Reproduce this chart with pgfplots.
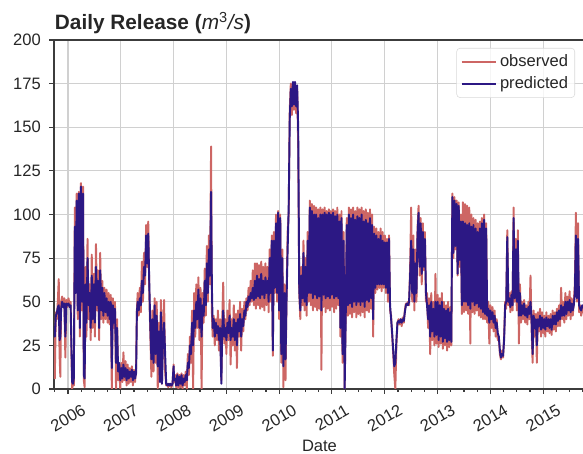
\documentclass[border=0pt]{standalone}
\usepackage{pgfplots}
\pgfplotsset{compat=1.18}
\usepackage{pgfplotstable}
\usepackage{fontspec}
\setmainfont{Liberation Sans}
\definecolor{obscol}{RGB}{205,102,100}
\definecolor{predcol}{RGB}{44,24,132}
\definecolor{gridcol}{RGB}{208,208,208}
\definecolor{spinecol}{RGB}{60,60,60}
\pgfplotstableread{
x obs pred
2005.735 30 36
2005.75 6 30
2005.77 44 42
2005.79 40 44
2005.81 52 47
2005.825 63 48
2005.84 20 28
2005.855 7 30
2005.87 50 46
2005.89 53 50
2005.91 47 47
2005.93 52 49
2005.95 18 30
2005.97 51 49
2005.99 47 48
2006.01 52 49
2006.03 48 47
2006.05 50 48
2006.065 20 25
2006.08 0 4
2006.095 8 3
2006.11 2 6
2006.13 104 93
2006.145 60 55
2006.165 112 108
2006.185 40 45
2006.205 113 112
2006.225 30 35
2006.245 118 116
2006.265 45 50
2006.285 116 112
2006.30 5 8
2006.315 1 6
2006.335 70 60
2006.35 30 38
2006.37 86 75
2006.39 40 48
2006.41 60 55
2006.43 28 35
2006.45 77 65
2006.47 35 40
2006.49 66 60
2006.51 30 38
2006.53 83 70
2006.55 45 48
2006.57 68 62
2006.59 28 35
2006.61 78 68
2006.63 40 45
2006.65 62 58
2006.67 38 42
2006.69 58 55
2006.71 40 44
2006.73 57 52
2006.75 38 42
2006.77 55 50
2006.79 37 40
2006.81 54 50
2006.83 0 12
2006.85 52 48
2006.87 35 38
2006.89 50 46
2006.91 0 15
2006.93 40 35
2006.95 5 10
2006.97 12 15
2006.99 0 5
2007.01 15 12
2007.03 4 6
2007.05 21 14
2007.07 5 7
2007.09 16 12
2007.11 2 5
2007.13 14 11
2007.15 3 6
2007.17 12 10
2007.19 4 7
2007.21 13 11
2007.23 2 5
2007.25 11 10
2007.27 4 6
2007.29 12 9
2007.305 45 44
2007.32 55 50
2007.34 42 45
2007.36 58 52
2007.38 44 48
2007.40 73 62
2007.42 50 55
2007.44 78 70
2007.46 60 65
2007.48 94 88
2007.50 70 72
2007.52 96 89
2007.54 55 60
2007.56 30 35
2007.58 7 17
2007.60 45 40
2007.62 10 15
2007.64 52 48
2007.66 15 20
2007.68 50 42
2007.70 0 13
2007.72 38 33
2007.74 5 4
2007.76 51 44
2007.78 3 3
2007.80 35 30
2007.82 51 38
2007.84 10 20
2007.86 2 3
2007.88 3 2
2007.90 1 3
2007.92 3 2
2007.94 2 3
2007.96 1 2
2007.98 3 3
2008.00 14 13
2008.01 4 5
2008.03 8 6
2008.05 1 2
2008.07 9 8
2008.09 0 2
2008.11 8 7
2008.13 1 3
2008.15 9 8
2008.17 0 2
2008.19 8 6
2008.21 2 4
2008.23 10 8
2008.25 0 5
2008.27 20 15
2008.29 8 12
2008.31 30 25
2008.33 15 20
2008.35 45 38
2008.37 0 25
2008.39 55 45
2008.41 30 35
2008.43 60 50
2008.45 35 40
2008.47 64 57
2008.49 28 35
2008.51 58 52
2008.53 0 30
2008.55 55 48
2008.57 38 42
2008.59 69 62
2008.61 42 48
2008.63 82 72
2008.65 50 55
2008.67 88 80
2008.69 60 65
2008.71 139 113
2008.725 45 60
2008.74 30 35
2008.76 42 40
2008.78 25 30
2008.80 40 38
2008.82 28 32
2008.84 45 36
2008.86 22 28
2008.88 40 35
2008.905 5 3
2008.92 38 33
2008.94 61 45
2008.96 26 30
2008.98 40 35
2009.00 20 28
2009.02 45 38
2009.04 28 32
2009.06 51 42
2009.08 14 28
2009.10 40 35
2009.12 25 30
2009.14 48 40
2009.16 22 28
2009.18 43 38
2009.20 12 25
2009.22 45 40
2009.24 30 33
2009.26 50 43
2009.28 22 30
2009.30 46 40
2009.32 33 36
2009.34 50 45
2009.36 40 42
2009.38 52 50
2009.40 45 47
2009.42 58 53
2009.44 48 50
2009.46 62 55
2009.48 50 52
2009.50 68 58
2009.52 48 51
2009.54 72 62
2009.56 46 52
2009.58 72 65
2009.60 48 53
2009.62 71 63
2009.64 46 52
2009.66 73 66
2009.68 47 54
2009.70 70 62
2009.72 45 52
2009.74 72 64
2009.76 48 55
2009.78 70 62
2009.80 44 50
2009.82 80 75
2009.84 50 55
2009.86 88 85
2009.88 19 22
2009.90 90 85
2009.92 55 58
2009.94 100 95
2009.96 50 55
2009.98 102 101
2010.00 40 45
2010.02 100 98
2010.04 15 20
2010.06 80 75
2010.08 1 13
2010.10 60 55
2010.12 5 17
2010.14 55 52
2010.16 90 80
2010.18 100 104
2010.20 160 155
2010.22 175 172
2010.24 157 162
2010.26 175 176
2010.28 160 163
2010.30 174 176
2010.32 158 162
2010.34 172 174
2010.36 140 150
2010.38 55 57
2010.40 40 45
2010.42 70 65
2010.44 48 52
2010.46 85 78
2010.48 45 50
2010.50 75 70
2010.52 42 48
2010.54 90 85
2010.56 50 55
2010.58 108 104
2010.60 48 55
2010.62 106 102
2010.64 45 52
2010.66 105 100
2010.68 47 54
2010.70 104 100
2010.72 45 52
2010.74 103 98
2010.76 46 53
2010.78 104 100
2010.80 11 45
2010.82 103 100
2010.84 47 54
2010.86 104 101
2010.88 44 52
2010.90 102 100
2010.92 46 53
2010.94 103 101
2010.96 45 52
2010.98 102 100
2011.00 47 54
2011.02 103 101
2011.04 44 52
2011.06 102 99
2011.08 46 53
2011.10 104 100
2011.12 48 52
2011.14 100 96
2011.16 30 35
2011.18 102 98
2011.20 15 20
2011.22 90 85
2011.24 0 0
2011.26 45 40
2011.28 98 94
2011.30 42 48
2011.32 104 100
2011.34 43 49
2011.36 103 98
2011.38 41 47
2011.40 104 100
2011.42 44 50
2011.44 102 97
2011.46 41 48
2011.48 104 99
2011.50 43 50
2011.52 103 98
2011.54 42 48
2011.56 104 100
2011.58 44 50
2011.60 102 96
2011.62 41 47
2011.64 103 97
2011.66 45 51
2011.68 101 95
2011.70 44 50
2011.72 103 98
2011.74 46 52
2011.76 100 94
2011.78 30 40
2011.80 93 89
2011.82 55 58
2011.84 92 88
2011.86 57 60
2011.88 90 86
2011.90 58 60
2011.92 92 88
2011.94 56 60
2011.96 90 85
2011.98 58 60
2012.00 88 84
2012.02 55 58
2012.04 86 84
2012.06 50 55
2012.08 88 86
2012.10 45 48
2012.12 42 40
2012.14 30 32
2012.16 20 22
2012.18 8 13
2012.20 0 15
2012.22 25 28
2012.24 38 38
2012.26 40 39
2012.28 37 38
2012.30 40 40
2012.32 36 38
2012.34 41 40
2012.36 38 39
2012.38 45 44
2012.40 49 48
2012.42 48 49
2012.44 50 48
2012.46 48 50
2012.48 70 65
2012.50 104 85
2012.52 50 55
2012.54 88 80
2012.56 45 50
2012.58 80 72
2012.60 50 55
2012.62 92 88
2012.64 105 101
2012.66 65 70
2012.68 98 95
2012.70 60 66
2012.72 95 90
2012.74 68 70
2012.76 90 86
2012.78 50 55
2012.80 55 48
2012.82 35 40
2012.84 52 48
2012.86 20 30
2012.88 55 50
2012.90 28 33
2012.92 50 46
2012.94 25 30
2012.96 66 50
2012.98 26 31
2013.00 54 50
2013.02 24 28
2013.04 52 48
2013.06 26 30
2013.08 55 50
2013.10 23 27
2013.12 50 46
2013.14 25 29
2013.16 48 45
2013.18 22 27
2013.20 50 46
2013.22 24 28
2013.24 47 44
2013.26 25 27
2013.28 112 110
2013.30 75 78
2013.32 110 108
2013.34 80 82
2013.36 108 106
2013.38 65 66
2013.40 107 105
2013.42 70 74
2013.44 100 96
2013.46 43 48
2013.48 107 96
2013.50 44 50
2013.52 106 95
2013.54 45 50
2013.56 105 94
2013.58 43 48
2013.60 104 95
2013.62 26 46
2013.64 100 93
2013.66 44 50
2013.68 98 94
2013.70 43 48
2013.72 97 92
2013.74 45 49
2013.76 95 90
2013.78 42 47
2013.80 96 92
2013.82 41 46
2013.84 98 95
2013.86 40 44
2013.88 100 97
2013.90 40 43
2013.92 95 92
2013.94 38 42
2013.96 50 46
2013.98 26 38
2014.00 48 45
2014.02 35 40
2014.04 47 44
2014.06 33 38
2014.08 45 42
2014.10 30 35
2014.12 40 38
2014.14 28 32
2014.16 30 30
2014.18 20 22
2014.20 17 18
2014.22 22 20
2014.24 18 19
2014.26 30 28
2014.28 50 48
2014.30 46 50
2014.32 91 87
2014.34 48 50
2014.36 55 52
2014.38 44 47
2014.40 56 54
2014.42 45 48
2014.44 104 98
2014.46 50 52
2014.48 86 80
2014.50 45 50
2014.52 91 85
2014.54 26 42
2014.56 60 55
2014.58 38 42
2014.60 50 48
2014.62 40 43
2014.64 51 49
2014.66 38 42
2014.68 48 46
2014.70 37 41
2014.72 50 47
2014.74 40 43
2014.76 65 50
2014.78 35 40
2014.80 15 20
2014.82 45 42
2014.84 30 35
2014.86 43 40
2014.88 15 25
2014.90 44 40
2014.92 33 36
2014.94 46 42
2014.96 30 34
2014.98 44 41
2015.00 32 35
2015.02 42 40
2015.04 30 34
2015.06 44 41
2015.08 33 36
2015.10 42 40
2015.12 32 35
2015.14 43 40
2015.16 31 34
2015.18 45 42
2015.20 34 37
2015.22 44 42
2015.24 33 37
2015.26 46 44
2015.28 36 39
2015.30 48 45
2015.32 36 40
2015.34 58 48
2015.36 40 42
2015.38 50 47
2015.40 38 42
2015.42 55 50
2015.44 40 43
2015.46 53 50
2015.48 42 45
2015.50 56 51
2015.52 40 44
2015.54 52 49
2015.56 42 45
2015.58 50 48
2015.60 60 55
2015.62 101 88
2015.64 50 52
2015.66 95 86
2015.68 44 48
2015.70 48 46
2015.72 42 45
2015.74 46 48
2015.76 44 47
2015.79 45 46
}\releasedata
\begin{document}
\begin{tikzpicture}
\begin{axis}[
  at={(0,0)}, anchor=south west,
  scale only axis,
  width=398.25pt, height=261.75pt,
  xmin=2005.735, xmax=2015.792,
  ymin=0, ymax=200,
  xtick={2006,2007,...,2015},
  xticklabels={2006,2007,2008,2009,2010,2011,2012,2013,2014,2015},
  minor xtick={2005.75,2006.25,2006.5,2006.75,2007.25,2007.5,2007.75,2008.25,2008.5,2008.75,2009.25,2009.5,2009.75,2010.25,2010.5,2010.75,2011.25,2011.5,2011.75,2012.25,2012.5,2012.75,2013.25,2013.5,2013.75,2014.25,2014.5,2014.75,2015.25,2015.5,2015.75},
  ytick={0,25,...,200},
  xtick pos=bottom, ytick pos=left,
  tick align=outside,
  major tick length=3.75pt,
  minor tick length=2.25pt,
  tick style={spinecol, line width=0.8pt},
  grid=major,
  major grid style={gridcol, line width=0.8pt},
  axis line style={spinecol, line width=0.9pt},
  /pgf/number format/assume math mode=true,
  tick label style={font=\fontsize{12.4}{14}\selectfont, text=black!85},
  yticklabel style={anchor=east, inner sep=0pt, xshift=-6pt},
  xticklabel style={rotate=30, anchor=center, inner sep=0pt},
  xticklabel shift=18pt,
  legend style={at={(rel axis cs:1,1)}, anchor=north east, xshift=-7.5pt, yshift=-6pt,
    draw=black!15, rounded corners=2.5pt, fill=white, fill opacity=0.8, text opacity=1,
    font=\fontsize{12.4}{14}\selectfont, text=black!85, inner sep=3pt,
    row sep=2pt, cells={anchor=west}},
  legend image code/.code={\draw[#1, line width=1.5pt] (0pt,0pt) -- (26pt,0pt);},
  clip=true,
]
\addplot[obscol, line width=1.45pt, line join=round] table[x=x, y=obs] {\releasedata};
\addlegendentry{observed}
\addplot[predcol, line width=1.45pt, line join=round] table[x=x, y=pred] {\releasedata};
\addlegendentry{predicted}
\end{axis}
\node[anchor=base west, inner sep=0pt, font=\fontsize{15.6}{18}\selectfont, text=black!85] at (0.5pt,269.5pt)
  {\textbf{Daily Release (}\textit{m}\textsuperscript{3}\textit{/s}\textbf{)}};
\node[anchor=base, inner sep=0pt, font=\fontsize{12.4}{14}\selectfont, text=black!85] at (199.1pt,-47.25pt) {Date};
\pgfresetboundingbox
\path[use as bounding box] (-40.5pt,-48.75pt) rectangle (396.75pt,291.75pt);
\end{tikzpicture}
\end{document}
